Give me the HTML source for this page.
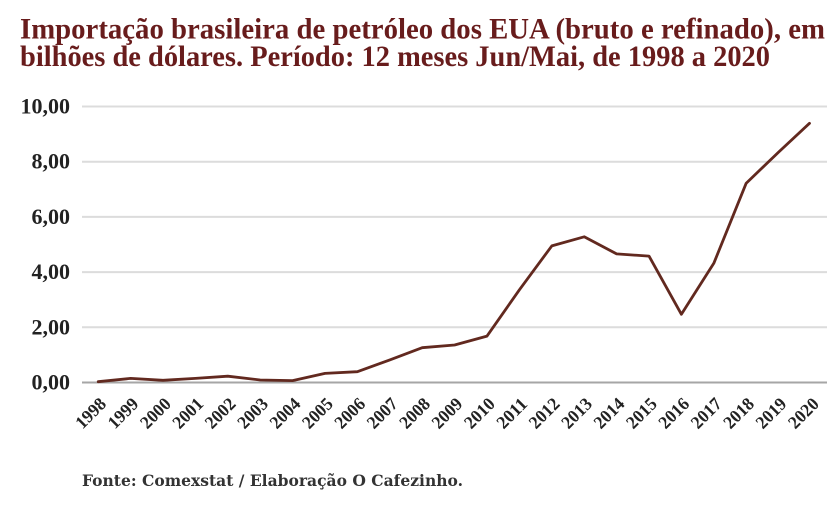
<!DOCTYPE html>
<html>
<head>
<meta charset="utf-8">
<style>
html,body{margin:0;padding:0;background:#fff;}
svg{display:block;}
</style>
</head>
<body>
<svg width="840" height="505" viewBox="0 0 840 505" xmlns="http://www.w3.org/2000/svg">
  <rect width="840" height="505" fill="#ffffff"/>
  <!-- Title -->
  <g font-family="'Liberation Serif', serif" font-weight="bold" font-size="30" fill="#681c1c">
    <text x="20" y="38.5" textLength="805" lengthAdjust="spacingAndGlyphs">Importação brasileira de petróleo dos EUA (bruto e refinado), em</text>
    <text x="20" y="66" textLength="750" lengthAdjust="spacingAndGlyphs">bilhões de dólares. Período: 12 meses Jun/Mai, de 1998 a 2020</text>
  </g>
  <!-- Gridlines -->
  <g stroke="#dcdcdc" stroke-width="2">
    <line x1="82" y1="106.5" x2="827" y2="106.5"/>
    <line x1="82" y1="161.7" x2="827" y2="161.7"/>
    <line x1="82" y1="216.9" x2="827" y2="216.9"/>
    <line x1="82" y1="272.1" x2="827" y2="272.1"/>
    <line x1="82" y1="327.3" x2="827" y2="327.3"/>
  </g>
  <line x1="82" y1="382.5" x2="827" y2="382.5" stroke="#a6a6a6" stroke-width="2"/>
  <!-- Y labels -->
  <g font-family="'Liberation Serif', serif" font-weight="bold" font-size="22" fill="#222222" text-anchor="end">
    <text x="70" y="113.5">10,00</text>
    <text x="70" y="168.7">8,00</text>
    <text x="70" y="223.9">6,00</text>
    <text x="70" y="279.1">4,00</text>
    <text x="70" y="334.3">2,00</text>
    <text x="70" y="389.5">0,00</text>
  </g>
  <!-- Series -->
  <polyline fill="none" stroke="#62291f" stroke-width="2.8" stroke-linejoin="round" stroke-linecap="round"
    points="98.2,381.7 130.6,378.4 163.0,380.3 195.4,378.4 227.8,376.2 260.2,380.0 292.6,380.6 325.0,373.4 357.4,371.7 389.8,359.9 422.2,347.7 454.6,345.0 487.0,336.1 519.4,289.8 551.8,245.9 584.2,236.8 616.6,253.9 649.0,256.1 681.4,314.3 713.8,263.3 746.2,183.2 778.6,152.1 809.5,123.3"/>
  <!-- X labels -->
  <g font-family="'Liberation Serif', serif" font-weight="bold" font-size="18" fill="#222222" text-anchor="end">
    <text transform="translate(107.2,405) rotate(-45)" textLength="35" lengthAdjust="spacingAndGlyphs">1998</text>
    <text transform="translate(139.6,405) rotate(-45)" textLength="35" lengthAdjust="spacingAndGlyphs">1999</text>
    <text transform="translate(172.0,405) rotate(-45)" textLength="35" lengthAdjust="spacingAndGlyphs">2000</text>
    <text transform="translate(204.4,405) rotate(-45)" textLength="35" lengthAdjust="spacingAndGlyphs">2001</text>
    <text transform="translate(236.8,405) rotate(-45)" textLength="35" lengthAdjust="spacingAndGlyphs">2002</text>
    <text transform="translate(269.2,405) rotate(-45)" textLength="35" lengthAdjust="spacingAndGlyphs">2003</text>
    <text transform="translate(301.6,405) rotate(-45)" textLength="35" lengthAdjust="spacingAndGlyphs">2004</text>
    <text transform="translate(334.0,405) rotate(-45)" textLength="35" lengthAdjust="spacingAndGlyphs">2005</text>
    <text transform="translate(366.4,405) rotate(-45)" textLength="35" lengthAdjust="spacingAndGlyphs">2006</text>
    <text transform="translate(398.8,405) rotate(-45)" textLength="35" lengthAdjust="spacingAndGlyphs">2007</text>
    <text transform="translate(431.2,405) rotate(-45)" textLength="35" lengthAdjust="spacingAndGlyphs">2008</text>
    <text transform="translate(463.6,405) rotate(-45)" textLength="35" lengthAdjust="spacingAndGlyphs">2009</text>
    <text transform="translate(496.0,405) rotate(-45)" textLength="35" lengthAdjust="spacingAndGlyphs">2010</text>
    <text transform="translate(528.4,405) rotate(-45)" textLength="35" lengthAdjust="spacingAndGlyphs">2011</text>
    <text transform="translate(560.8,405) rotate(-45)" textLength="35" lengthAdjust="spacingAndGlyphs">2012</text>
    <text transform="translate(593.2,405) rotate(-45)" textLength="35" lengthAdjust="spacingAndGlyphs">2013</text>
    <text transform="translate(625.6,405) rotate(-45)" textLength="35" lengthAdjust="spacingAndGlyphs">2014</text>
    <text transform="translate(658.0,405) rotate(-45)" textLength="35" lengthAdjust="spacingAndGlyphs">2015</text>
    <text transform="translate(690.4,405) rotate(-45)" textLength="35" lengthAdjust="spacingAndGlyphs">2016</text>
    <text transform="translate(722.8,405) rotate(-45)" textLength="35" lengthAdjust="spacingAndGlyphs">2017</text>
    <text transform="translate(755.2,405) rotate(-45)" textLength="35" lengthAdjust="spacingAndGlyphs">2018</text>
    <text transform="translate(787.6,405) rotate(-45)" textLength="35" lengthAdjust="spacingAndGlyphs">2019</text>
    <text transform="translate(820.0,405) rotate(-45)" textLength="35" lengthAdjust="spacingAndGlyphs">2020</text>
  </g>
  <!-- Footer -->
  <text x="82" y="486" font-family="'DejaVu Serif', serif" font-weight="bold" font-size="16" fill="#333333" textLength="381" lengthAdjust="spacingAndGlyphs">Fonte: Comexstat / Elaboração O Cafezinho.</text>
</svg>
</body>
</html>
